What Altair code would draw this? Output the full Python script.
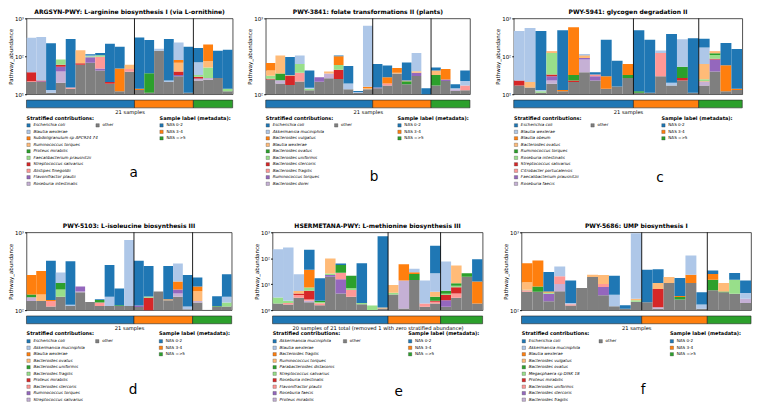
import altair as alt
import pandas as pd

TAB = ["#1f77b4", "#aec7e8", "#ff7f0e", "#ffbb78", "#2ca02c",
       "#98df8a", "#d62728", "#ff9896", "#9467bd", "#c5b0d5"]
OTHER_COLOR = "#7f7f7f"
GROUP_COLORS = ["#1f77b4", "#ff7f0e", "#2ca02c"]
GROUP_LABELS = ["NAS 0-2", "NAS 3-4", "NAS =>5"]

# ---------------- panel a ----------------
A_TITLE = "ARGSYN-PWY: L-arginine biosynthesis I (via L-ornithine)"
A_SPECIES = ["Escherichia coli", "Blautia wexlerae", "Subdoligranulum sp APC924 74",
             "Ruminococcus torques", "Proteus mirabilis", "Faecalibacterium prausnitzii",
             "Streptococcus salivarius", "Alistipes finegoldii", "Flavonifractor plautii",
             "Roseburia intestinalis"]
A_OTHER = [21, 21, 11, 20, 14, 60, 68, 42, 19, 12, 39, 13, 11, 140, 21, 30, 11, 23, 24, 27, 12]
A_SEG = [
    {7: 1, 6: 16, 1: 270}, {8: 1, 6: 1, 1: 302}, {1: 2, 0: 207},
    {9: 20, 8: 13, 6: 7, 5: 23}, {7: 1, 0: 270}, {6: 6, 3: 79},
    {8: 27, 5: 5, 1: 5, 0: 8}, {8: 6, 7: 50, 5: 9, 0: 16}, {6: 2, 0: 192},
    {2: 36, 0: 132}, {7: 7, 3: 14}, {2: 1, 0: 301}, {4: 25, 0: 234},
    {1: 18}, {1: 2, 0: 262}, {8: 2, 6: 8, 3: 28, 2: 12, 1: 150}, {0: 169},
    {9: 2, 8: 1, 6: 3, 5: 3, 1: 38, 0: 95}, {9: 3, 5: 24, 3: 24, 2: 130},
    {0: 113}, {5: 2, 0: 136},
]
A_GROUPS = [11, 6, 4]
A_YDOM = [10, 1000]

# ---------------- panel b ----------------
B_TITLE = "PWY-3841: folate transformations II (plants)"
B_SPECIES = ["Escherichia coli", "Akkermansia muciniphila", "Bacteroides vulgatus",
             "Blautia wexlerae", "Bacteroides ovatus", "Bacteroides uniformis",
             "Bacteroides stercoris", "Bacteroides fragilis", "Ruminococcus torques",
             "Bacteroides dorei"]
B_OTHER = [156, 139, 132, 147, 113, 146, 163, 159, 116, 104, 116, 120, 130, 187, 135, 174, 95, 130, 149, 110, 113]
B_SEG = [
    {6: 4, 5: 15, 3: 30, 2: 53}, {9: 14, 4: 34, 3: 138}, {6: 42, 3: 4, 0: 132},
    {7: 45, 5: 59, 1: 74}, {5: 5, 1: 4, 0: 83}, {8: 22}, {9: 24, 3: 12},
    {6: 52, 5: 31, 2: 74, 0: 9}, {1: 23, 0: 96}, {1: 3, 0: 3}, {3: 5, 2: 5, 1: 674},
    {8: 3, 0: 128}, {7: 9, 2: 29, 0: 72}, {3: 5, 2: 29}, {4: 13, 3: 4, 0: 111},
    {8: 18, 3: 9, 1: 149}, {0: 25},
    {4: 49, 3: 26, 0: 20}, {8: 7, 2: 59}, {9: 6, 1: 4, 0: 15}, {7: 17, 1: 19, 0: 56},
]
B_GROUPS = [11, 6, 4]
B_YDOM = [100, 1000]

# ---------------- panel c ----------------
C_TITLE = "PWY-5941: glycogen degradation II"
C_SPECIES = ["Escherichia coli", "Blautia wexlerae", "Blautia obeum", "Bacteroides ovatus",
             "Ruminococcus torques", "Roseburia intestinalis", "Streptococcus salivarius",
             "Citrobacter portucalensis", "Faecalibacterium prausnitzii", "Roseburia faecis"]
C_OTHER = [17, 15, 11, 19, 12, 21, 38, 23, 14, 16, 27, 11, 11, 30, 17, 23, 11, 17, 40, 12, 13]
C_SEG = [
    {6: 6, 1: 445}, {3: 6, 1: 539}, {5: 1, 1: 1, 0: 455},
    {9: 4, 8: 7, 6: 3, 5: 89, 3: 6, 2: 6}, {2: 1, 0: 477}, {6: 2, 4: 9, 2: 553},
    {9: 45, 8: 7, 3: 10, 2: 5, 1: 10}, {8: 7, 7: 3, 0: 5}, {2: 16, 0: 245},
    {0: 60}, {4: 5, 2: 31},
    {4: 1, 0: 478}, {0: 264}, {7: 92, 1: 20}, {1: 3, 0: 365}, {6: 4, 4: 26, 1: 229}, {0: 289},
    {9: 4, 7: 1, 5: 3, 3: 38, 1: 107, 0: 120}, {8: 42, 6: 4, 5: 22, 4: 12, 3: 8, 2: 6},
    {2: 46, 0: 167}, {2: 1, 0: 143},
]
C_GROUPS = [11, 6, 4]
C_YDOM = [10, 1000]

# ---------------- panel d ----------------
D_TITLE = "PWY-5103: L-isoleucine biosynthesis III"
D_SPECIES = ["Escherichia coli", "Akkermansia muciniphila", "Blautia wexlerae",
             "Bacteroides ovatus", "Bacteroides uniformis", "Bacteroides fragilis",
             "Proteus mirabilis", "Bacteroides stercoris", "Ruminococcus torques",
             "Streptococcus salivarius"]
D_OTHER = [131, 131, 111, 149, 113, 170, 127, 113, 113, 113, 113, 110, 95, 174, 134, 149, 103, 125, 100, 111, 111]
D_SEG = [
    {9: 16, 4: 12, 2: 125}, {3: 28, 2: 160}, {7: 20, 2: 4, 0: 296},
    {5: 35, 4: 39, 1: 81}, {1: 4, 0: 309}, {9: 4, 8: 28}, {},
    {7: 12, 4: 10, 0: 3}, {1: 36, 0: 231}, {4: 3, 0: 74}, {1: 687},
    {8: 5, 0: 315}, {6: 49, 5: 6, 0: 220}, {}, {3: 2, 2: 2, 0: 232},
    {9: 15, 8: 20, 2: 50, 1: 164}, {1: 8, 0: 173},
    {9: 6, 3: 44, 2: 27, 0: 61}, {}, {4: 2, 0: 38}, {5: 14, 1: 24, 0: 141},
]
D_GROUPS = [11, 6, 4]
D_YDOM = [100, 1000]

# ---------------- panel e ----------------
E_TITLE = "HSERMETANA-PWY: L-methionine biosynthesis III"
E_SPECIES = ["Akkermansia muciniphila", "Blautia wexlerae", "Bacteroides fragilis",
             "Ruminococcus torques", "Parabacteroides distasonis", "Streptococcus salivarius",
             "Roseburia intestinalis", "Flavonifractor plautii", "Roseburia faecis",
             "Proteus mirabilis"]
E_OTHER = [1.8, 1.66, 3, 2, 1.56, 19.6, 4.4, 3.3, 1.7, 1.0, 1.16, 4, 1.16, 14.6, 1.35, 1.8, 1.35, 3, 19.6, 1.8]
E_SEG = [
    {5: 1.3, 1: 222}, {7: 0.24, 5: 0.4, 1: 260}, {7: 0.8, 6: 0.6, 3: 1.1, 1: 18.5},
    {9: 0.3, 7: 0.3, 6: 3, 5: 1.8, 2: 29, 0: 177}, {7: 0.3, 5: 0.2, 4: 0.24, 0: 14.7},
    {8: 3, 5: 3, 3: 72}, {8: 11, 7: 12, 4: 28, 0: 8}, {7: 2.7, 5: 1, 4: 14},
    {5: 0.2, 0: 62}, {5: 0.5}, {3: 0.1, 0: 700},
    {5: 0.7, 3: 4.6}, {9: 12.6, 2: 45}, {4: 10, 2: 4, 1: 11}, {7: 0.45, 1: 12},
    {7: 0.3, 6: 0.2, 4: 1.0, 3: 1.8, 1: 21.5, 0: 278},
    {8: 1.05, 6: 1.4, 5: 0.5, 4: 1.3, 1: 69}, {7: 1.4, 6: 3.2, 5: 1.2, 4: 2, 3: 42},
    {4: 7}, {2: 10.8, 0: 80},
]
E_GROUPS = [11, 5, 4]
E_YDOM = [1, 1000]

# ---------------- panel f ----------------
F_TITLE = "PWY-5686: UMP biosynthesis I"
F_SPECIES = ["Escherichia coli", "Akkermansia muciniphila", "Blautia wexlerae",
             "Bacteroides vulgatus", "Bacteroides ovatus", "Megasphaera sp DISK 18",
             "Proteus mirabilis", "Bacteroides uniformis", "Bacteroides stercoris",
             "Bacteroides fragilis"]
F_OTHER = [172, 172, 130, 175, 115, 193, 266, 155, 112, 104, 128, 126, 104, 223, 137, 223, 104, 180, 170, 163, 124]
F_SEG = [
    {7: 8, 5: 3, 3: 45, 2: 174}, {4: 30, 2: 233}, {8: 33, 5: 5, 2: 5, 0: 137},
    {9: 42, 7: 55, 1: 93}, {7: 4, 1: 5, 0: 117}, {}, {3: 19}, {8: 43, 7: 19, 3: 65},
    {1: 46, 0: 119}, {0: 12}, {5: 6, 3: 6, 1: 830},
    {0: 204}, {9: 5, 6: 78, 3: 36, 0: 113}, {3: 43}, {4: 11, 2: 4, 0: 106},
    {2: 62, 1: 218}, {1: 14, 0: 52},
    {4: 66, 2: 45, 0: 33}, {4: 4, 3: 49}, {5: 83, 0: 54}, {9: 16, 1: 26, 0: 75},
]
F_GROUPS = [11, 6, 4]
F_YDOM = [100, 1000]

FONT = "DejaVu Sans"
STEP = 6.67
D0 = 0.6
C0, C1, C2 = 0.01, 0.345, 0.655


def bars_chart(title, species, other, seg, groups, ydom, W, H):
    n = len(other)
    base = ydom[0] * 0.3
    rows = []
    for i in range(n):
        cum = 0.0
        stack = [(other[i], OTHER_COLOR)] + [(seg[i][k], TAB[k]) for k in sorted(seg[i], reverse=True)]
        for v, c in stack:
            lo, hi = cum, cum + v
            cum = hi
            rows.append(dict(x0=i, x1=i + 1, y0=max(lo, base), y1=hi, c=c))
    df = pd.DataFrame(rows)
    xsc = alt.Scale(domain=[0, n], nice=False, zero=False)
    ticks = [v for v in [1, 10, 100, 1000] if ydom[0] <= v <= ydom[1]]
    label_expr = ("datum.value >= 1000 ? '10³' : datum.value >= 100 ? '10²' : "
                  "datum.value >= 10 ? '10¹' : '10⁰'")
    rects = alt.Chart(df).mark_rect(clip=True).encode(
        x=alt.X("x0:Q", scale=xsc, axis=None),
        x2="x1",
        y=alt.Y("y0:Q", scale=alt.Scale(type="log", domain=ydom, nice=False),
                axis=alt.Axis(values=ticks, labelExpr=label_expr, labelFontSize=5.6,
                              titleFontSize=5.6, titleFontWeight="normal", tickSize=2,
                              labelPadding=1, titlePadding=1, grid=False, domain=False,
                              tickColor="#000", labelColor="#000", titleColor="#000",
                              labelFont=FONT, titleFont=FONT),
                title="Pathway_abundance"),
        y2="y1",
        color=alt.Color("c:N", scale=None),
    )
    bounds = []
    acc = 0
    for g in groups[:-1]:
        acc += g
        bounds.append(acc)
    rules = alt.Chart(pd.DataFrame({"b": bounds})).mark_rule(color="#000", strokeWidth=0.9).encode(
        x=alt.X("b:Q", scale=xsc, axis=None))
    return alt.layer(rects, rules).properties(
        width=W, height=H,
        title=alt.TitleParams(text=title, fontSize=6.2, fontWeight="bold", font=FONT,
                              offset=1.5, anchor="middle", color="#000"),
        view=alt.ViewBackground(stroke="#222", strokeWidth=0.8),
    )


def strip_chart(groups, W, xlabel):
    n = sum(groups)
    rows = []
    acc = 0
    for g, c in zip(groups, GROUP_COLORS):
        rows.append(dict(s=acc, e=acc + g, c=c))
        acc += g
    return alt.Chart(pd.DataFrame(rows)).mark_rect(stroke="#222", strokeWidth=0.6).encode(
        x=alt.X("s:Q", scale=alt.Scale(domain=[0, n], nice=False, zero=False),
                axis=alt.Axis(labels=False, ticks=False, domain=False, grid=False,
                              title=xlabel, titleFontSize=5.3, titleFontWeight="normal",
                              titlePadding=2, titleFont=FONT, titleColor="#000")),
        x2="e",
        y=alt.value(0), y2=alt.value(8),
        color=alt.Color("c:N", scale=None),
    ).properties(width=W, height=8, view=alt.ViewBackground(stroke="transparent"))


def legend_chart(species, W, H, letter, letter_x, letter_row):
    ysc = alt.Scale(domain=[-D0, -D0 + H / STEP], reverse=True, nice=False, zero=False)
    xsc = alt.Scale(domain=[0, 1], nice=False, zero=False)
    items = []
    for k, s in enumerate(species):
        items.append(dict(x=C0, y=1.2 + k, c=TAB[k], t=s, kind="sp"))
    items.append(dict(x=C1, y=1.2, c=OTHER_COLOR, t="other", kind="plain"))
    for j, (g, c) in enumerate(zip(GROUP_LABELS, GROUP_COLORS)):
        items.append(dict(x=C2, y=1.2 + j, c=c, t=g, kind="plain"))
    df = pd.DataFrame(items)
    enc = dict(x=alt.X("x:Q", scale=xsc, axis=None), y=alt.Y("y:Q", scale=ysc, axis=None))
    base = alt.Chart(df).encode(**enc)
    squares = base.mark_square(size=12, stroke="#333", strokeWidth=0.3, opacity=1).encode(
        color=alt.Color("c:N", scale=None))
    ital = base.transform_filter("datum.kind == 'sp'").mark_text(
        align="left", baseline="middle", dx=5, fontSize=4.2, fontStyle="italic", font=FONT,
        color="#000").encode(text="t:N")
    plain = base.transform_filter("datum.kind == 'plain'").mark_text(
        align="left", baseline="middle", dx=5, fontSize=4.2, font=FONT, color="#000").encode(text="t:N")
    tdf = pd.DataFrame([dict(x=C0, y=0, t="Stratified contributions:"),
                        dict(x=C2, y=0, t="Sample label (metadata):")])
    titles = alt.Chart(tdf).mark_text(align="left", baseline="middle", dx=-2, fontSize=5.1,
                                      fontWeight="bold", font=FONT, color="#000").encode(
        x=alt.X("x:Q", scale=xsc, axis=None), y=alt.Y("y:Q", scale=ysc, axis=None), text="t:N")
    ldf = pd.DataFrame([dict(x=letter_x, y=letter_row, t=letter)])
    let = alt.Chart(ldf).mark_text(align="center", baseline="middle", fontSize=14, font=FONT,
                                   color="#000").encode(
        x=alt.X("x:Q", scale=xsc, axis=None), y=alt.Y("y:Q", scale=ysc, axis=None), text="t:N")
    return alt.layer(squares, ital, plain, titles, let).properties(
        width=W, height=H, view=alt.ViewBackground(stroke="transparent"))


def panel(title, species, other, seg, groups, ydom, W, H, LH, xlabel, letter, lx, lr):
    return alt.vconcat(
        bars_chart(title, species, other, seg, groups, ydom, W, H),
        strip_chart(groups, W, xlabel),
        legend_chart(species, W, LH, letter, lx, lr),
        spacing=6, bounds="flush",
    )


pa = panel(A_TITLE, A_SPECIES, A_OTHER, A_SEG, A_GROUPS, A_YDOM, 212, 78, 96, "21 samples", "a", 0.52, 8.55)
pb = panel(B_TITLE, B_SPECIES, B_OTHER, B_SEG, B_GROUPS, B_YDOM, 210, 78, 96, "21 samples", "b", 0.53, 9.15)
pc = panel(C_TITLE, C_SPECIES, C_OTHER, C_SEG, C_GROUPS, C_YDOM, 235, 78, 96, "21 samples", "c", 0.64, 9.3)
pd_ = panel(D_TITLE, D_SPECIES, D_OTHER, D_SEG, D_GROUPS, D_YDOM, 211, 80, 76, "21 samples", "d", 0.52, 8.7)
pe = panel(E_TITLE, E_SPECIES, E_OTHER, E_SEG, E_GROUPS, E_YDOM, 216, 80, 76,
           "20 samples of 21 total (removed 1 with zero stratified abundance)", "e", 0.6, 9.0)
pf = panel(F_TITLE, F_SPECIES, F_OTHER, F_SEG, F_GROUPS, F_YDOM, 236, 80, 76, "21 samples", "f", 0.53, 8.7)

row1 = alt.hconcat(alt.hconcat(pa, pb, spacing=14), pc, spacing=25)
row2 = alt.hconcat(alt.hconcat(pd_, pe, spacing=22), pf, spacing=20)

chart = alt.vconcat(row1, row2, spacing=14).properties(
    padding={"top": -6, "left": 0, "right": 0, "bottom": 0}
).configure_view(stroke=None).configure(font=FONT, background="white")

chart.save("out.html", embed_options={"renderer": "svg", "actions": False})
